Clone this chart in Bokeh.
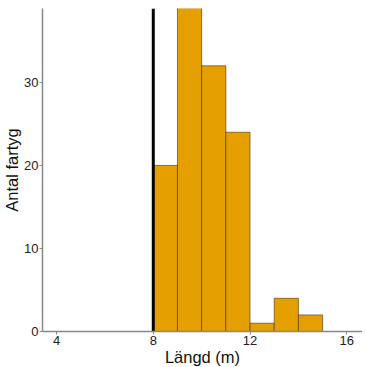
from bokeh.plotting import figure
from bokeh.models import Range1d, FixedTicker
from bokeh.embed import file_html
from bokeh.resources import INLINE

bin_left = [8, 9, 10, 11, 12, 13, 14]
bin_right = [9, 10, 11, 12, 13, 14, 15]
counts = [20, 39, 32, 24, 1, 4, 2]
threshold = 8
x_ticks = [4, 8, 12, 16]
y_ticks = [0, 10, 20, 30]

p = figure(frame_width=320, frame_height=323, output_backend="svg", toolbar_location=None,
           x_range=Range1d(3.42, 16.65), y_range=Range1d(0, 38.9),
           min_border_left=0, min_border_right=0, min_border_top=8, min_border_bottom=0)
p.outline_line_color = None
p.grid.visible = False
p.background_fill_color = "white"

p.quad(left=bin_left, right=bin_right, bottom=0, top=counts,
       fill_color="#E69F00", line_color="#4a3000", line_width=0.6)
p.segment(x0=[threshold], y0=[0], x1=[threshold], y1=[38.9], line_color="black", line_width=3)

for ax in (p.xaxis, p.yaxis):
    ax.axis_line_color = "#888888"
    ax.axis_line_width = 1.5
    ax.major_tick_line_color = "#888888"
    ax.major_tick_out = 3
    ax.major_tick_in = 0
    ax.minor_tick_line_color = None
    ax.major_label_text_font = "Liberation Sans"
    ax.major_label_text_font_size = "13px"
    ax.major_label_text_color = "#222222"
    ax.axis_label_text_font = "Liberation Sans"
    ax.axis_label_text_font_size = "16.5px"
    ax.axis_label_text_font_style = "normal"
    ax.axis_label_text_color = "#111111"

p.xaxis.ticker = FixedTicker(ticks=x_ticks)
p.yaxis.ticker = FixedTicker(ticks=y_ticks)
p.xaxis.axis_label = "Längd (m)"
p.yaxis.axis_label = "Antal fartyg"
p.xaxis.major_label_standoff = 1
p.yaxis.major_label_standoff = 1
p.xaxis.axis_label_standoff = 0
p.yaxis.axis_label_standoff = 0

open("out.html", "w").write(file_html(p, INLINE))
